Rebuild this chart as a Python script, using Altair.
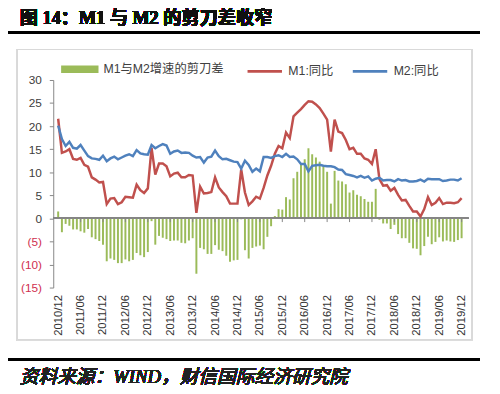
import altair as alt
import pandas as pd

# ---------------- data ----------------
months = []
for yy in range(2010, 2020):
    for mm in range(1, 13):
        if (yy, mm) >= (2010, 12):
            months.append(f"{yy}/{mm:02d}")

m1 = [21.6,
      14.2, 14.5, 15.0, 12.9, 12.7, 13.1, 11.6, 11.2, 8.9, 8.4, 7.8, 7.9,
      3.1, 4.3, 4.4, 3.1, 3.5, 4.7, 4.6, 4.5, 7.3, 6.1, 5.5, 6.5,
      15.3, 9.5, 11.9, 11.9, 11.3, 9.1, 9.7, 9.9, 8.9, 8.9, 9.4, 9.3,
      1.2, 6.9, 5.4, 5.5, 5.7, 8.9, 6.7, 5.7, 4.8, 3.2, 3.2, 3.2,
      10.6, 5.6, 2.9, 3.7, 4.7, 4.3, 6.6, 9.3, 11.4, 14.0, 15.7, 15.2,
      18.6, 17.4, 22.1, 22.9, 23.7, 24.6, 25.4, 25.3, 24.7, 23.9, 22.7, 21.4,
      14.5, 21.4, 18.8, 18.5, 17.0, 15.0, 15.3, 14.0, 14.0, 13.0, 12.7, 11.8,
      15.0, 8.5, 7.1, 7.2, 6.0, 6.6, 5.1, 3.9, 4.0, 2.7, 1.5, 1.5,
      0.4, 2.0, 4.6, 2.9, 3.4, 4.4, 3.1, 3.4, 3.4, 3.3, 3.5, 4.4]

m2 = [20.1,
      17.2, 15.7, 16.6, 15.3, 15.1, 15.9, 14.7, 13.5, 13.0, 12.9, 12.7, 13.6,
      12.4, 13.0, 13.4, 12.8, 13.2, 13.6, 13.9, 13.5, 14.8, 14.1, 13.9, 13.8,
      15.9, 15.2, 15.7, 16.1, 15.8, 14.0, 14.5, 14.7, 14.2, 14.3, 14.2, 13.6,
      13.2, 13.3, 12.1, 13.2, 13.4, 14.7, 13.5, 12.8, 12.9, 12.6, 12.3, 12.2,
      10.8, 12.5, 11.6, 10.1, 10.8, 10.2, 13.3, 13.3, 13.1, 13.5, 13.7, 13.3,
      14.0, 13.3, 13.4, 12.8, 11.8, 11.8, 10.2, 11.4, 11.5, 11.6, 11.4, 11.3,
      11.3, 11.1, 10.6, 10.5, 9.6, 9.4, 9.2, 8.9, 9.2, 8.8, 9.1, 8.2,
      8.6, 8.8, 8.2, 8.3, 8.3, 8.0, 8.5, 8.2, 8.3, 8.0, 8.0, 8.1,
      8.4, 8.0, 8.6, 8.5, 8.5, 8.5, 8.1, 8.2, 8.4, 8.4, 8.2, 8.7]

gap_name = "M1与M2增速的剪刀差"
m1_name = "M1:同比"
m2_name = "M2:同比"
y_ticks = [-15, -10, -5, 0, 5, 10, 15, 20, 25, 30]

title_text = "图 14：M1 与 M2 的剪刀差收窄"
source_text = "资料来源：WIND，财信国际经济研究院"

# ---------------- frames ----------------
idx = list(range(len(months)))
gap = [round(a - b, 1) for a, b in zip(m1, m2)]
bar_df = pd.DataFrame({"i": idx, "v": gap, "s": gap_name})
line_df = pd.concat([
    pd.DataFrame({"i": idx, "v": m1, "s": m1_name}),
    pd.DataFrame({"i": idx, "v": m2, "s": m2_name}),
])
label_idx = [i for i in idx if i % 6 == 0]
tick_df = pd.DataFrame({"i": [i for i in label_idx if i > 0]})
label_arr = "[" + ",".join(f"'{months[i]}'" for i in label_idx) + "]"

LAT = "Liberation Sans, Noto Sans CJK SC"
GRAY = "#868686"

xscale = alt.Scale(domain=[0, 108.5], nice=False, zero=False)
yscale = alt.Scale(domain=[-15, 30], nice=False)

x_axis = alt.Axis(values=label_idx, labelExpr=f"{label_arr}[round(datum.value/6)]",
                  labelAngle=270, labelAlign="right", labelBaseline="middle",
                  labelPadding=7, labelFontSize=11.5, labelFont=LAT, labelColor="#333333",
                  domain=False, ticks=False, grid=False, title=None,
                  labelOverlap=False, labelFlush=False, labelBound=False)
y_axis = alt.Axis(values=y_ticks,
                  labelExpr="datum.value < 0 ? '(' + abs(datum.value) + ')' : '' + datum.value",
                  labelColor={"condition": {"test": "datum.value < 0", "value": "#D02F4F"},
                              "value": "#404040"},
                  labelFontSize=12, labelFont=LAT, labelPadding=8,
                  labelOverlap=False, labelFlush=False, labelBound=False,
                  tickSize=4, tickColor=GRAY, domainColor=GRAY, grid=False, title=None)

box = alt.Chart(bar_df).mark_rect(filled=False, stroke="#D9D9D9", strokeWidth=1.2).encode(
    x=alt.value(-37), x2=alt.value(426), y=alt.value(-31), y2=alt.value(264))

bars = alt.Chart(bar_df).mark_bar(width=2).encode(
    x=alt.X("i:Q", scale=xscale, axis=x_axis),
    y=alt.Y("v:Q", scale=yscale, axis=y_axis),
    fill=alt.Fill("s:N", scale=alt.Scale(domain=[gap_name], range=["#9BBB59"]),
                  legend=alt.Legend(orient="none", legendX=8, legendY=-30, title=None,
                                    symbolType="M-1,-0.2H1V0.2H-1Z", symbolSize=1444,
                                    symbolStrokeWidth=0, labelOffset=5, padding=0,
                                    labelFontSize=12.5, labelFont=LAT, labelColor="#404040")),
)

zero = alt.Chart(bar_df).mark_rule(color=GRAY, strokeWidth=1).encode(
    y=alt.Y(datum=0, scale=yscale, axis=y_axis))

ticks = alt.Chart(tick_df).mark_rule(color=GRAY, strokeWidth=1).encode(
    x=alt.X("i:Q", scale=xscale, axis=x_axis),
    y=alt.Y(datum=0, scale=yscale, axis=y_axis), y2=alt.Y2(datum=-0.8))

lines = alt.Chart(line_df).mark_line(strokeWidth=2.5).encode(
    x=alt.X("i:Q", scale=xscale, axis=x_axis),
    y=alt.Y("v:Q", scale=yscale, axis=y_axis),
    stroke=alt.Stroke("s:N", scale=alt.Scale(domain=[m1_name, m2_name], range=["#C0504D", "#4F81BD"]),
                      legend=alt.Legend(orient="none", legendX=196, legendY=-28, title=None,
                                        direction="horizontal", symbolType="stroke",
                                        symbolSize=1225, symbolStrokeWidth=3, labelOffset=5,
                                        columnPadding=13, padding=0,
                                        labelFontSize=12.5, labelFont=LAT, labelColor="#404040")),
)

title_mark = alt.Chart(bar_df).mark_text(
    text=title_text, align="left", baseline="alphabetic", fontSize=18.5, fontWeight="bold",
    font="Liberation Serif, Noto Sans CJK SC", color="#111111").encode(
    x=alt.value(-34), y=alt.value(-57))

top_line = alt.Chart(bar_df).mark_rule(color="black", strokeWidth=2.5).encode(
    x=alt.value(-48), x2=alt.value(433), y=alt.value(-48.5))
bottom_line = alt.Chart(bar_df).mark_rule(color="black", strokeWidth=2.5).encode(
    x=alt.value(-48), x2=alt.value(433), y=alt.value(284))

source_mark = alt.Chart(bar_df).mark_text(
    text=source_text, align="left", baseline="alphabetic", fontSize=19, fontStyle="italic",
    fontWeight="normal", font="Liberation Serif, Noto Sans CJK SC", color="#222222").encode(
    x=alt.value(-34), y=alt.value(308))

chart = alt.layer(box, bars, zero, ticks, lines, title_mark, top_line, bottom_line, source_mark).properties(
    width=422, height=211,
    autosize=alt.AutoSizeParams(type="none"),
    padding={"left": 46, "top": 70, "right": 24, "bottom": 105},
).resolve_scale(fill="independent", stroke="independent").configure_view(
    stroke=None).configure_axis(labelOverlap=False)

chart.save("out.html", embed_options={"renderer": "svg", "actions": False})
